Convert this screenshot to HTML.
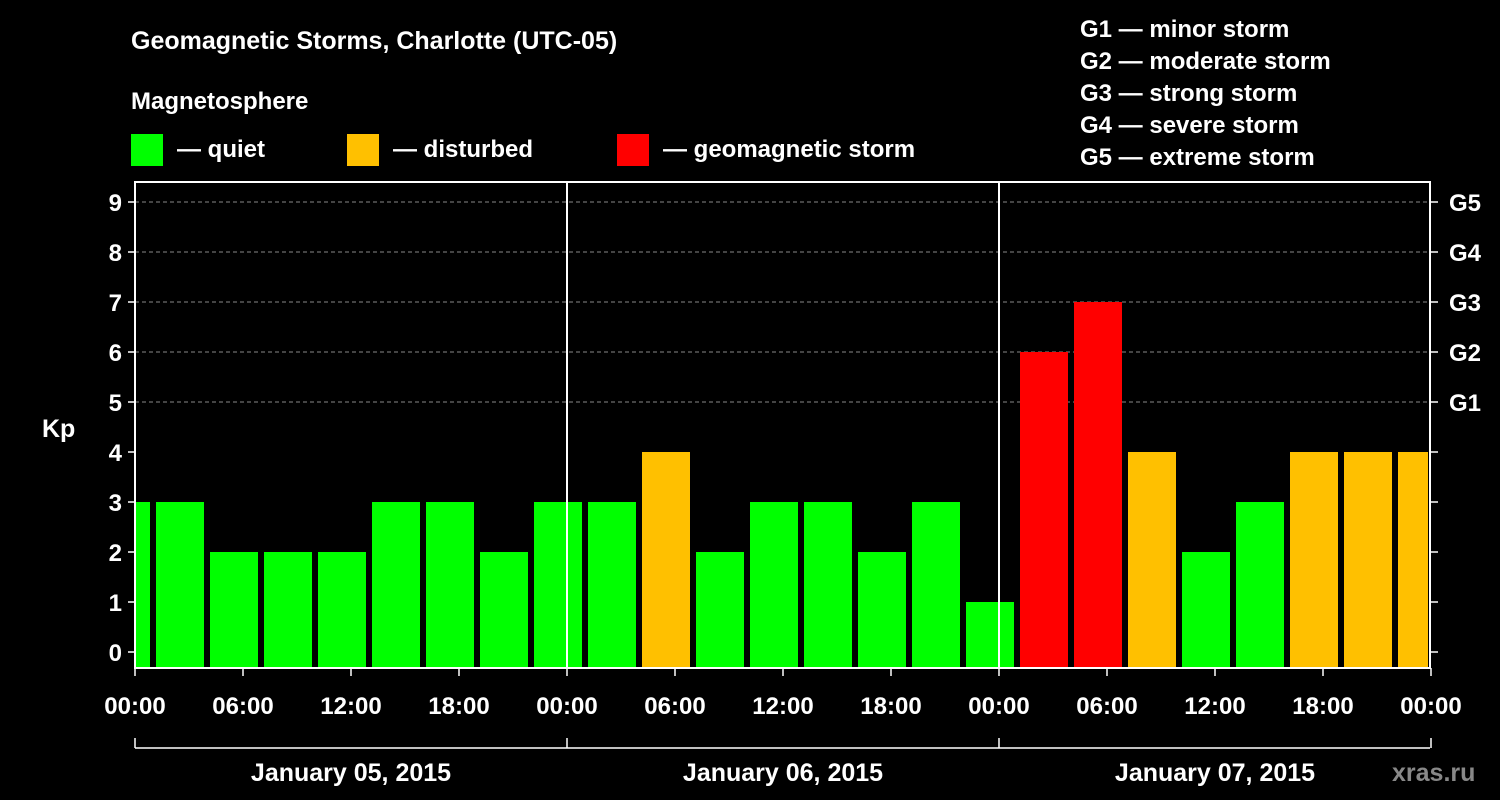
<!DOCTYPE html>
<html><head><meta charset="utf-8"><style>
body{margin:0;background:#000;}
svg{display:block;font-family:"Liberation Sans",Arial,sans-serif;font-weight:bold;}
</style></head><body>
<svg id="chart" width="1500" height="800" viewBox="0 0 1500 800">
<rect width="1500" height="800" fill="#000"/>
<text x="131" y="49" fill="#fff" font-size="25">Geomagnetic Storms, Charlotte (UTC-05)</text>
<text x="131" y="109" fill="#fff" font-size="24">Magnetosphere</text>
<g><rect x="131" y="134" width="32" height="32" fill="#00ff00"/><text x="177" y="157" fill="#fff" font-size="24">— quiet</text></g>
<g><rect x="347" y="134" width="32" height="32" fill="#ffc000"/><text x="393" y="157" fill="#fff" font-size="24">— disturbed</text></g>
<g><rect x="617" y="134" width="32" height="32" fill="#ff0000"/><text x="663" y="157" fill="#fff" font-size="24">— geomagnetic storm</text></g>
<g fill="#fff" font-size="24">
<text x="1080" y="37">G1 — minor storm</text>
<text x="1080" y="69">G2 — moderate storm</text>
<text x="1080" y="101">G3 — strong storm</text>
<text x="1080" y="133">G4 — severe storm</text>
<text x="1080" y="165">G5 — extreme storm</text>
</g>
<text x="42" y="437" fill="#fff" font-size="25">Kp</text>
<g id="grid"></g>
<g id="bars"></g>
<g id="axes"></g>
<text x="1392" y="781" fill="#888" font-size="25">xras.ru</text>
</svg>
<script>
const kpValues=[3,3,2,2,2,3,3,2,3,3,4,2,3,3,2,3,1,6,7,4,2,3,4,4,4];
const firstBinStartHour=-2;
const binHours=3;
const dayLabels=["January 05, 2015","January 06, 2015","January 07, 2015"];
const hourTickLabels=["00:00","06:00","12:00","18:00"];
const gLabels=["G1","G2","G3","G4","G5"];

const X0=135,X1=1430,PXH=18,Y0=652,PKP=50,TOP=182,BOT=668;
const NS="http://www.w3.org/2000/svg";
const xs=h=>X0+h*PXH, ys=k=>Y0-k*PKP;
function mk(tag,attrs,parent){const e=document.createElementNS(NS,tag);for(const k in attrs)e.setAttribute(k,attrs[k]);parent.appendChild(e);return e;}
const grid=document.getElementById('grid'),bars=document.getElementById('bars'),axes=document.getElementById('axes');
for(let k=5;k<=9;k++){const l=mk('line',{x1:X0,x2:X1,y1:ys(k),y2:ys(k),stroke:'#888','stroke-dasharray':'4,3','stroke-width':1},grid);

}
kpValues.forEach((v,i)=>{const h=firstBinStartHour+i*binHours;let a=xs(h)+3,b=xs(h+binHours)-3;a=Math.max(a,X0+1);b=Math.min(b,X1-2);
const c=v>=5?'#ff0000':(v>=4?'#ffc000':'#00ff00');
const r=mk('rect',{x:a,y:ys(v),width:b-a,height:BOT-1-ys(v),fill:c},bars);

});
const frame=mk('rect',{x:X0,y:TOP,width:X1-X0,height:BOT-TOP,fill:'none',stroke:'#fff','stroke-width':2},axes);


const days=dayLabels.length;
for(let d=1;d<days;d++){const l=mk('line',{x1:xs(d*24),x2:xs(d*24),y1:TOP,y2:BOT,stroke:'#fff','stroke-width':2},axes);

}
for(let k=0;k<=9;k++){
const t=mk('line',{x1:X0-7,x2:X0,y1:ys(k),y2:ys(k),stroke:'#fff','stroke-width':1.5},axes);


const t2=mk('line',{x1:X1,x2:X1+8,y1:ys(k),y2:ys(k),stroke:'#fff','stroke-width':1.5},axes);


const lb=mk('text',{x:X0-13,y:ys(k)+9,fill:'#fff','font-size':24,'text-anchor':'end'},axes);lb.textContent=k;


if(k>=5){const g=mk('text',{x:1449,y:ys(k)+9,fill:'#fff','font-size':24},axes);g.textContent=gLabels[k-5];

}}
for(let h=0;h<=days*24;h+=6){const x=xs(h);
const t=mk('line',{x1:x,x2:x,y1:BOT,y2:BOT+8,stroke:'#fff','stroke-width':1.5},axes);


const lb=mk('text',{x:x,y:714,fill:'#fff','font-size':24,'text-anchor':'middle'},axes);lb.textContent=hourTickLabels[(h/6)%4];

}
const br=mk('line',{x1:X0,x2:X1,y1:748,y2:748,stroke:'#fff','stroke-width':1.5},axes);


for(let d=0;d<=days;d++){const t=mk('line',{x1:xs(d*24),x2:xs(d*24),y1:738,y2:748,stroke:'#fff','stroke-width':1.5},axes);

}
dayLabels.forEach((s,d)=>{const lb=mk('text',{x:xs(d*24+12),y:781,fill:'#fff','font-size':25,'text-anchor':'middle'},axes);lb.textContent=s;

});
</script>
</body></html>
